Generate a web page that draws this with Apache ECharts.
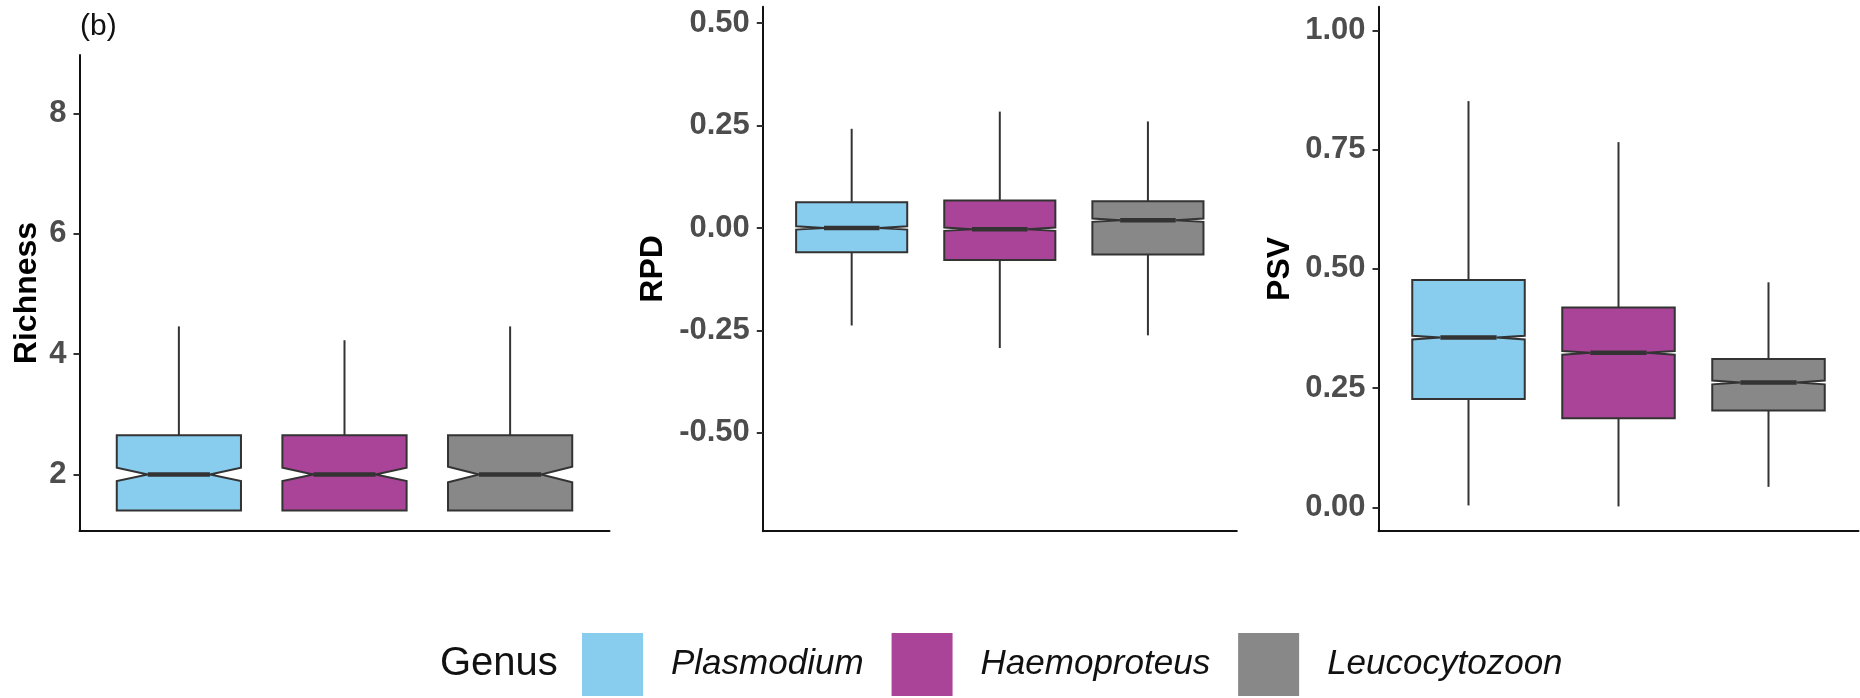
<!DOCTYPE html>
<html>
<head>
<meta charset="utf-8">
<script src="https://cdn.jsdelivr.net/npm/echarts@6/dist/echarts.min.js"></script>
<style>
  html, body { margin: 0; padding: 0; background: #fff; }
  #chart { width: 1860px; height: 698px; }
</style>
</head>
<body>
<div id="chart"></div>
<script>
// genus order and fill colours
const genera = ['Plasmodium', 'Haemoproteus', 'Leucocytozoon'];
const genusColors = ['#88CCEE', '#AA4499', '#888888'];

// [lower whisker, Q1, median, Q3, upper whisker], one row per genus
const richnessStats = [
  [1.40, 1.40, 2.00, 2.65, 4.46],
  [1.40, 1.40, 2.00, 2.65, 4.23],
  [1.40, 1.40, 2.00, 2.65, 4.46]
];
const richnessNotch = [0.11, 0.11, 0.13];

const rpdStats = [
  [-0.238, -0.059, 0.000, 0.063, 0.242],
  [-0.293, -0.078, -0.003, 0.067, 0.284],
  [-0.262, -0.065, 0.019, 0.065, 0.260]
];
const rpdNotch = [0.004, 0.004, 0.004];

const psvStats = [
  [0.004, 0.227, 0.356, 0.477, 0.852],
  [0.002, 0.187, 0.324, 0.419, 0.766],
  [0.043, 0.203, 0.262, 0.311, 0.472]
];
const psvNotch = [0.004, 0.004, 0.004];

// tick labels
const richnessTicks = [2, 4, 6, 8];
const rpdTicks = [-0.5, -0.25, 0, 0.25, 0.5];
const psvTicks = [0, 0.25, 0.5, 0.75, 1];

const labelFont = '"Liberation Sans", Arial, sans-serif';

const panels = [
  { name: 'Richness', stats: richnessStats, notch: richnessNotch, ticks: richnessTicks, min: 1.06, max: 8.97,
    fmt: v => String(v), nameGap: 36,
    grid: { left: 79.5, top: 55, width: 530, height: 476 } },
  { name: 'RPD', stats: rpdStats, notch: rpdNotch, ticks: rpdTicks, min: -0.74, max: 0.54,
    fmt: v => v.toFixed(2), nameGap: 94,
    grid: { left: 762.8, top: 6.7, width: 474, height: 524.5 } },
  { name: 'PSV', stats: psvStats, notch: psvNotch, ticks: psvTicks, min: -0.05, max: 1.05,
    fmt: v => v.toFixed(2), nameGap: 82,
    grid: { left: 1378.5, top: 6.7, width: 480, height: 524.5 } }
];

// notched box drawn through the axis scales
function renderBox(params, api) {
  const x = api.value(0);
  const lo = api.value(1), q1 = api.value(2), med = api.value(3), q3 = api.value(4), hi = api.value(5);
  const notch = api.value(6);
  const hw = api.size([0.375, 0])[0];
  const xc = api.coord([x, med])[0];
  const y = v => api.coord([x, v])[1];
  const L = xc - hw, R = xc + hw, nl = xc - hw / 2, nr = xc + hw / 2;
  const stroke = '#333333';
  const pts = [
    [L, y(q3)], [R, y(q3)], [R, y(med + notch)], [nr, y(med)], [R, y(med - notch)],
    [R, y(q1)], [L, y(q1)], [L, y(med - notch)], [nl, y(med)], [L, y(med + notch)]
  ];
  return {
    type: 'group',
    children: [
      { type: 'line', shape: { x1: xc, y1: y(hi), x2: xc, y2: y(q3) }, style: { stroke: stroke, lineWidth: 2 } },
      { type: 'line', shape: { x1: xc, y1: y(q1), x2: xc, y2: y(lo) }, style: { stroke: stroke, lineWidth: 2 } },
      { type: 'polygon', shape: { points: pts }, style: { fill: api.visual('color'), stroke: stroke, lineWidth: 2 } },
      { type: 'line', shape: { x1: nl, y1: y(med), x2: nr, y2: y(med) }, style: { stroke: stroke, lineWidth: 4.5 } }
    ]
  };
}

const series = [];
panels.forEach((p, pi) => {
  genera.forEach((g, gi) => {
    series.push({
      type: 'custom',
      name: g,
      xAxisIndex: pi,
      yAxisIndex: pi,
      itemStyle: { color: genusColors[gi] },
      renderItem: renderBox,
      encode: { x: 0, y: [1, 2, 3, 4, 5] },
      data: [[gi + 1].concat(p.stats[gi], [p.notch[gi]])]
    });
  });
});

const chart = echarts.init(document.getElementById('chart'));
chart.setOption({
  animation: false,
  backgroundColor: '#ffffff',
  title: [
    { text: '(b)', left: 80, top: 12, padding: 0,
      textStyle: { fontFamily: labelFont, fontSize: 30, fontWeight: 'normal', color: '#111' } },
    { text: 'Genus', left: 440, top: 644, padding: 0,
      textStyle: { fontFamily: labelFont, fontSize: 40, fontWeight: 'normal', color: '#111' } }
  ],
  legend: {
    data: genera,
    left: 582,
    top: 633,
    padding: 0,
    icon: 'rect',
    itemWidth: 61,
    itemHeight: 63,
    itemGap: 28,
    selectedMode: false,
    itemStyle: { borderWidth: 0 },
    textStyle: { fontFamily: labelFont, fontStyle: 'italic', fontSize: 35, color: '#111', padding: [0, 0, 0, 23] }
  },
  grid: panels.map(p => Object.assign({ containLabel: false }, p.grid)),
  xAxis: panels.map((p, i) => ({
    type: 'value', gridIndex: i, min: 0.4, max: 3.6,
    axisLine: { show: true, onZero: false, lineStyle: { color: '#111', width: 2 } },
    axisTick: { show: false },
    axisLabel: { show: false },
    splitLine: { show: false }
  })),
  yAxis: panels.map((p, i) => ({
    type: 'value', gridIndex: i, min: p.min, max: p.max,
    name: p.name,
    nameLocation: 'middle',
    nameGap: p.nameGap,
    nameTextStyle: { fontFamily: labelFont, fontSize: 32, fontWeight: 'bold', color: '#000' },
    axisLine: { show: true, onZero: false, lineStyle: { color: '#111', width: 2 } },
    axisTick: { show: true, length: 6, customValues: p.ticks, lineStyle: { color: '#333', width: 2 } },
    axisLabel: { customValues: p.ticks, formatter: p.fmt, margin: 13,
      fontFamily: labelFont, fontSize: 31, fontWeight: 'bold', color: '#4D4D4D' },
    splitLine: { show: false }
  })),
  series: series
});
</script>
</body>
</html>
